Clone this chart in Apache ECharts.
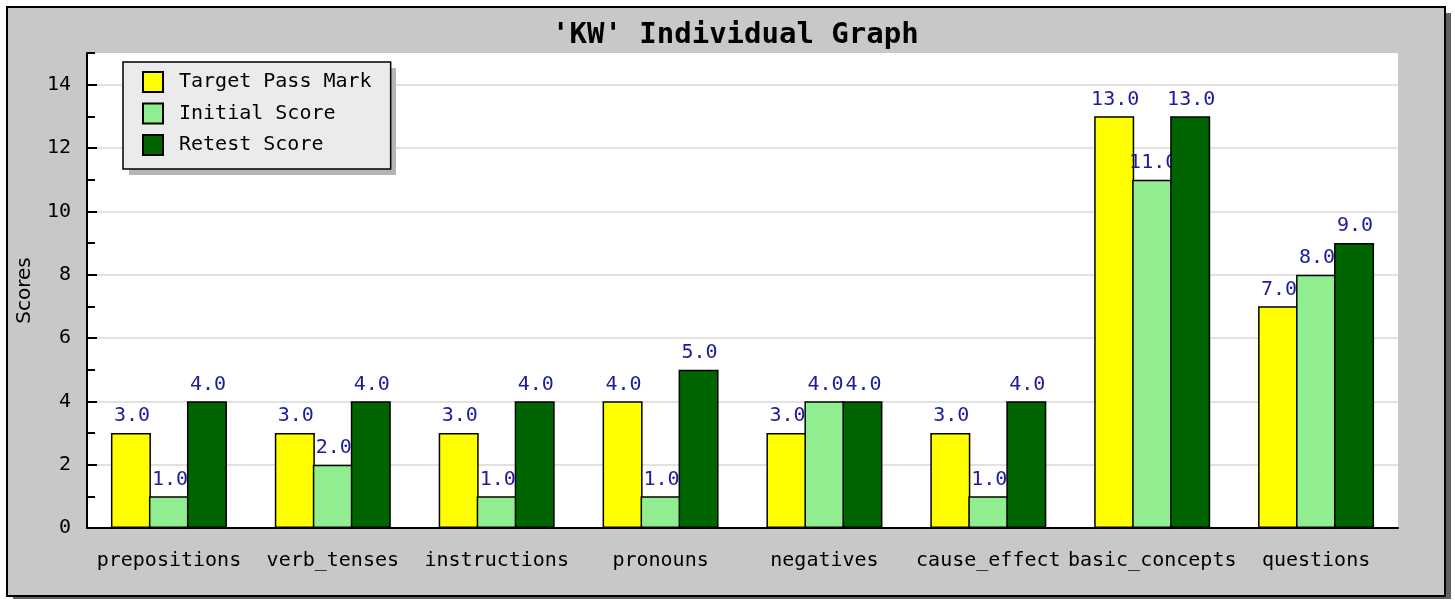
<!DOCTYPE html>
<html>
<head>
    <meta charset="UTF-8">
    <title>'KW' Individual Graph</title>
    <script src="https://cdn.jsdelivr.net/npm/echarts@6/dist/echarts.min.js"></script>
</head>
<body style="margin:0">
<div id="main" style="width: 1455px;height:600px;"></div>
<script type="text/javascript">
    // categories and scores
    let categories = ['prepositions', 'verb_tenses', 'instructions', 'pronouns',
        'negatives', 'cause_effect', 'basic_concepts', 'questions'];
    let targetPassMark = [3, 3, 3, 4, 3, 3, 13, 7];
    let initialScore = [1, 2, 1, 1, 4, 1, 11, 8];
    let retestScore = [4, 4, 4, 5, 4, 4, 13, 9];
    let seriesNames = ['Target Pass Mark', 'Initial Score', 'Retest Score'];
    let seriesColors = ['#ffff00', '#90ee90', '#006400'];

    let mono = 'DejaVu Sans Mono';

    // each series on its own layer so later bars cover earlier labels
    function barSeries(i, data) {
        return {
            name: seriesNames[i],
            type: 'bar',
            zlevel: 1 + i,
            barWidth: 40,
            barGap: '-5%',
            itemStyle: {
                color: seriesColors[i],
                borderColor: '#000',
                borderWidth: 1.5
            },
            label: {
                show: true,
                position: 'top',
                distance: 7,
                offset: [1, 0],
                fontFamily: mono,
                fontSize: 20,
                color: '#1c1c9c',
                formatter: p => p.value.toFixed(1)
            },
            data: data
        };
    }

    var myChart = echarts.init(document.getElementById('main'));

    let option = {
        animation: false,
        backgroundColor: '#fff',
        graphic: [
            {
                type: 'rect', z: -10,
                shape: {x: 13, y: 13, width: 1438, height: 586},
                style: {fill: '#626262'}
            },
            {
                type: 'rect', z: -9,
                shape: {x: 7, y: 7, width: 1438, height: 589},
                style: {fill: '#c8c8c8', stroke: '#000', lineWidth: 2}
            },
            {
                // legend shadow
                type: 'rect', z: 3,
                shape: {x: 129, y: 68, width: 267, height: 107},
                style: {fill: '#b4b4b4'}
            }
        ],
        title: {
            text: "'KW' Individual Graph",
            left: 547,
            top: 16,
            textStyle: {
                fontFamily: mono,
                fontWeight: 'bold',
                fontSize: 29,
                color: '#000'
            }
        },
        legend: {
            orient: 'vertical',
            left: 123,
            top: 62,
            z: 4,
            itemWidth: 20,
            itemHeight: 20,
            itemGap: 9.5,
            padding: [9, 19, 13, 19],
            backgroundColor: '#ebebeb',
            borderColor: '#000',
            borderWidth: 1.5,
            icon: 'rect',
            textStyle: {
                fontFamily: mono,
                fontSize: 20,
                color: '#000',
                padding: [0, 0, 0, 11]
            },
            data: seriesNames
        },
        grid: {
            left: 87,
            top: 53,
            right: 57,
            bottom: 72,
            show: true,
            backgroundColor: '#fff',
            borderWidth: 0
        },
        xAxis: {
            type: 'category',
            data: categories,
            boundaryGap: true,
            axisLine: {lineStyle: {color: '#000', width: 2}},
            axisTick: {inside: true, length: 11, lineStyle: {color: '#000', width: 2}},
            axisLabel: {
                margin: 23,
                interval: 0,
                fontFamily: mono,
                fontSize: 20,
                color: '#000'
            }
        },
        yAxis: [
            {
                type: 'value',
                min: 0,
                max: 15,
                interval: 2,
                name: 'Scores',
                nameLocation: 'middle',
                nameGap: 52,
                nameTextStyle: {fontFamily: 'DejaVu Sans', fontSize: 20, color: '#000'},
                axisLine: {show: true, lineStyle: {color: '#000', width: 2}},
                axisTick: {show: true, inside: true, length: 10, lineStyle: {color: '#000', width: 2}},
                axisLabel: {
                    margin: 16,
                    showMaxLabel: false,
                    fontFamily: mono,
                    fontSize: 20,
                    color: '#000'
                },
                splitLine: {
                    show: true,
                    showMinLine: false,
                    showMaxLine: false,
                    lineStyle: {color: '#e2e2e2', width: 2}
                }
            },
            {
                // odd-value minor ticks only
                type: 'value',
                position: 'left',
                min: 0,
                max: 15,
                interval: 1,
                axisLine: {show: false},
                axisTick: {show: true, inside: true, length: 8, lineStyle: {color: '#000', width: 2}},
                axisLabel: {show: false},
                splitLine: {show: false}
            }
        ],
        series: [
            barSeries(0, targetPassMark),
            barSeries(1, initialScore),
            barSeries(2, retestScore)
        ]
    };

    myChart.setOption(option);
</script>
</body>
</html>
